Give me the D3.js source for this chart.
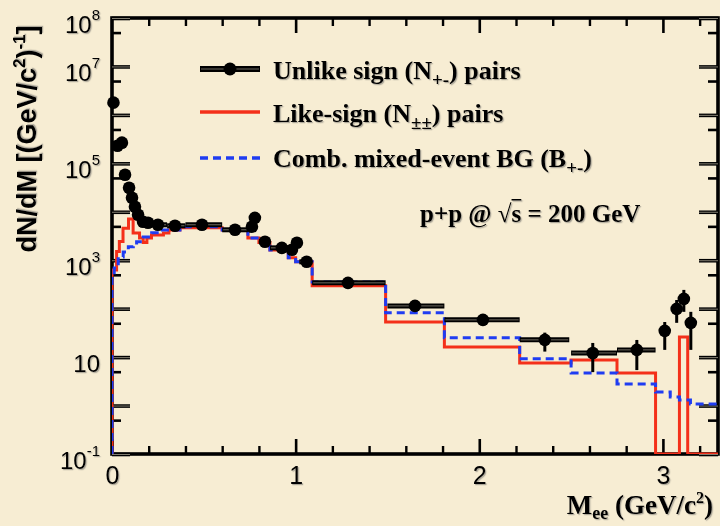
<!DOCTYPE html>
<html>
<head>
<meta charset="utf-8">
<script src="https://cdn.jsdelivr.net/npm/d3@7"></script>
<style>
  html, body { margin: 0; padding: 0; background: #f7edd3; }
  svg { display: block; }
</style>
</head>
<body>
<svg id="chart" width="720" height="526"></svg>
<script>
// ---- Unlike-sign pairs: bin centre, bin edges, yield and (where visible) error band
const unlikeMass  = [0.008, 0.03, 0.054, 0.071, 0.093, 0.109, 0.125, 0.142, 0.169, 0.196, 0.25, 0.343, 0.49, 0.67, 0.762, 0.778, 0.833, 0.925, 0.98, 1.007, 1.06, 1.285, 1.65, 2.02, 2.357, 2.618, 2.858, 3.01, 3.075, 3.114, 3.152];
const unlikeBinLo = [0, 0.02, 0.04, 0.06, 0.08, 0.10, 0.12, 0.14, 0.16, 0.18, 0.21, 0.30, 0.40, 0.60, 0.74, 0.77, 0.80, 0.86, 0.96, 1.00, 1.02, 1.09, 1.50, 1.81, 2.22, 2.50, 2.75, 3.00, 3.065, 3.105, 3.145];
const unlikeBinHi = [0.02, 0.04, 0.06, 0.08, 0.10, 0.12, 0.14, 0.16, 0.18, 0.21, 0.30, 0.40, 0.60, 0.74, 0.77, 0.80, 0.86, 0.96, 1.00, 1.02, 1.09, 1.49, 1.81, 2.22, 2.49, 2.75, 2.96, 3.02, 3.085, 3.125, 3.16];
const unlikeYield = [1.79e6, 2.31e5, 2.67e5, 5.81e4, 3.13e4, 1.95e4, 1.27e4, 8.67e3, 6.21e3, 5.93e3, 5.39e3, 5.14e3, 5.39e3, 4.25e3, 4.9e3, 7.5e3, 2.4e3, 1.8e3, 1.64e3, 2.29e3, 927, 341, 114, 58.7, 22.7, 12.2, 14.1, 34.8, 99, 159, 50.9];
const unlikeErrLo = [null, null, null, null, null, null, null, null, null, null, null, null, null, null, null, null, null, null, null, null, null, null, null, 46, 13, 4.9, 5.4, 14.1, 51, 86, 14.1];
const unlikeErrHi = [null, null, null, null, null, null, null, null, null, null, null, null, null, null, null, null, null, null, null, null, null, null, null, 74, 32, 19.6, 22.6, 53, 151, 244, 86];

// ---- Like-sign pairs histogram (bin edges, contents)
const likeEdges = [0, 0.025, 0.04, 0.06, 0.09, 0.115, 0.15, 0.17, 0.19, 0.215, 0.28, 0.31, 0.37, 0.60, 0.74, 0.80, 0.86, 0.96, 1.00, 1.09, 1.49, 1.81, 2.22, 2.50, 2.75, 2.96, 3.09, 3.135, 3.30];
const likeYield = [630, 1510, 2440, 4570, 7080, 3630, 2870, 2330, 2870, 3330, 3630, 4230, 4700, 4230, 2870, 2330, 1630, 1120, 930, 296, 53, 16.2, 7.6, 8.7, 4.7, 0, 26, 0];

// ---- Combinatorial mixed-event background histogram (bin edges, contents)
const mixedEdges = [0, 0.012, 0.034, 0.061, 0.089, 0.116, 0.134, 0.17, 0.216, 0.26, 0.37, 0.60, 0.74, 0.80, 0.86, 0.96, 1.00, 1.09, 1.49, 1.81, 2.22, 2.50, 2.75, 2.96, 3.04, 3.09, 3.15, 3.30];
const mixedYield = [457, 690, 1170, 1480, 1900, 2090, 2400, 3030, 3700, 4230, 4900, 4230, 2870, 2330, 1630, 1120, 930, 355, 82, 25, 9.2, 4.7, 2.8, 1.9, 1.5, 1.3, 1.08];

// ---- Axis ticks and labels
const xMajorTicks = [0, 1, 2, 3];
const xMinorTicks = [0.2, 0.4, 0.6, 0.8, 1.2, 1.4, 1.6, 1.8, 2.2, 2.4, 2.6, 2.8, 3.2];
const xTickLabels = ["0", "1", "2", "3"];
const yMajorTicks = [1e-1, 1, 10, 1e2, 1e3, 1e4, 1e5, 1e6, 1e7, 1e8];
const yMinorTicks = [0.5, 5, 50, 500, 5e3, 5e4, 5e5, 5e6, 5e7];
const yLabelValues = [1e8, 1e7, 1e5, 1e3, 10, 1e-1];
const yLabelExps = ["8", "7", "5", "3", "", "-1"];

const legendLabels = [
  ["Unlike sign (N", "+-", ") pairs"],
  ["Like-sign (N", "\u00b1\u00b1", ") pairs"],
  ["Comb. mixed-event BG (B", "+-", ")"]
];

// ---- Layout
const W = 720, H = 526;
const plot = { l: 112, r: 718, t: 18, b: 454 };
const RED = "#f4301a", BLUE = "#1f3cf2";
const SANS = "'Liberation Sans', Arial, Helvetica, sans-serif";
const SERIF = "'Liberation Serif', 'Times New Roman', Times, serif";

const svg = d3.select("#chart");
const defs = svg.append("defs");
defs.append("clipPath").attr("id", "plotClip")
  .append("rect").attr("x", plot.l).attr("y", plot.t)
  .attr("width", plot.r - plot.l).attr("height", plot.b - plot.t);
const shadow = defs.append("filter").attr("id", "ts")
  .attr("x", "-5%").attr("y", "-20%").attr("width", "115%").attr("height", "150%");
shadow.append("feDropShadow").attr("dx", 1.2).attr("dy", 1.2)
  .attr("stdDeviation", 0.5).attr("flood-color", "#555").attr("flood-opacity", 0.45);

svg.append("rect").attr("width", W).attr("height", H).attr("fill", "#f7edd3");

const x = d3.scaleLinear().domain([0, 3.3]).range([plot.l, plot.r]);
const y = d3.scaleLog().domain([0.1, 1e8]).range([plot.b, plot.t]);
const yv = v => (v > 0.1 ? y(v) : y(0.1));

// ---- Frame
svg.append("rect").attr("x", plot.l).attr("y", plot.t)
  .attr("width", plot.r - plot.l).attr("height", plot.b - plot.t)
  .attr("fill", "none").attr("stroke", "#000").attr("stroke-width", 3.6);

// double-stroke look for the heavy tick marks
function heavyTicks(g, w) {
  g.select(".domain").remove();
  g.selectAll(".tick line").attr("stroke", "#000").attr("stroke-width", w);
  g.selectAll(".tick").each(function () {
    const t = d3.select(this), l = t.select("line");
    t.append("line")
      .attr("x2", l.attr("x2") || 0).attr("y2", l.attr("y2") || 0)
      .attr("stroke", "#8f8a7c").attr("stroke-width", 0.9);
  });
}
function lightTicks(g, w) {
  g.select(".domain").remove();
  g.selectAll(".tick line").attr("stroke", "#000").attr("stroke-width", w);
}

// bottom and top x axes
const gxMajor = svg.append("g").attr("transform", `translate(0,${plot.b})`)
  .call(d3.axisBottom(x).tickValues(xMajorTicks).tickSize(-15).tickPadding(12)
    .tickFormat((d, i) => xTickLabels[i]));
lightTicks(gxMajor, 2.6);
gxMajor.selectAll("text").attr("font-size", 25).attr("font-family", SANS)
  .attr("fill", "#000").attr("filter", "url(#ts)");
lightTicks(svg.append("g").attr("transform", `translate(0,${plot.b})`)
  .call(d3.axisBottom(x).tickValues(xMinorTicks).tickSize(-8).tickFormat("")), 2.4);
lightTicks(svg.append("g").attr("transform", `translate(0,${plot.t})`)
  .call(d3.axisTop(x).tickValues(xMajorTicks.slice(1)).tickSize(-15).tickFormat("")), 2.6);
lightTicks(svg.append("g").attr("transform", `translate(0,${plot.t})`)
  .call(d3.axisTop(x).tickValues(xMinorTicks).tickSize(-8).tickFormat("")), 2.4);

// left and right log y axes
heavyTicks(svg.append("g").attr("transform", `translate(${plot.l},0)`)
  .call(d3.axisLeft(y).tickValues(yMajorTicks).tickSize(-18).tickFormat("")), 3.6);
lightTicks(svg.append("g").attr("transform", `translate(${plot.l},0)`)
  .call(d3.axisLeft(y).tickValues(yMinorTicks).tickSize(-9).tickFormat("")), 2.6);
heavyTicks(svg.append("g").attr("transform", `translate(${plot.r},0)`)
  .call(d3.axisRight(y).tickValues(yMajorTicks).tickSize(-19).tickFormat("")), 3.6);
lightTicks(svg.append("g").attr("transform", `translate(${plot.r},0)`)
  .call(d3.axisRight(y).tickValues(yMinorTicks).tickSize(-10).tickFormat("")), 2.6);

// y tick labels: 10 with superscript exponent
const yLab = svg.append("g").attr("font-family", SANS).attr("fill", "#000")
  .attr("filter", "url(#ts)");
yLabelValues.forEach((v, i) => {
  const t = yLab.append("text").attr("x", 100).attr("y", y(v) + 14.5)
    .attr("text-anchor", "end").attr("font-size", 24);
  t.append("tspan").text("10");
  if (yLabelExps[i]) {
    t.append("tspan").attr("dy", -13).attr("font-size", 15).text(yLabelExps[i]);
  }
});

// ---- Data layers (histograms clipped to the plotting frame)
const layer = svg.append("g");
const clipped = layer.append("g").attr("clip-path", "url(#plotClip)");

// unlike-sign horizontal bin bars
const pts = unlikeMass.map((m, i) => ({
  m, lo: unlikeBinLo[i], hi: unlikeBinHi[i], v: unlikeYield[i],
  eLo: unlikeErrLo[i], eHi: unlikeErrHi[i]
}));
const bars = layer.append("g");
bars.selectAll("line.hb").data(pts).join("line")
  .attr("x1", d => x(d.lo)).attr("x2", d => x(d.hi))
  .attr("y1", d => y(d.v)).attr("y2", d => y(d.v))
  .attr("stroke", "#000").attr("stroke-width", 5);
bars.selectAll("line.hc").data(pts).join("line").attr("class", "hc")
  .attr("x1", d => x(d.lo) + 1).attr("x2", d => x(d.hi) - 1)
  .attr("y1", d => y(d.v)).attr("y2", d => y(d.v))
  .attr("stroke", "#6f6b60").attr("stroke-width", 1);
bars.selectAll("line.vb").data(pts.filter(d => d.eLo !== null)).join("line")
  .attr("class", "vb")
  .attr("x1", d => x(d.m)).attr("x2", d => x(d.m))
  .attr("y1", d => y(d.eLo)).attr("y2", d => y(d.eHi))
  .attr("stroke", "#000").attr("stroke-width", 3);

// step histograms
function stepPath(edges, vals) {
  const p = d3.path();
  p.moveTo(x(edges[0]), y(0.1));
  vals.forEach((v, i) => {
    p.lineTo(x(edges[i]), yv(v));
    p.lineTo(x(edges[i + 1]), yv(v));
  });
  return p.toString();
}
clipped.append("path").attr("d", stepPath(likeEdges, likeYield))
  .attr("fill", "none").attr("stroke", RED).attr("stroke-width", 3)
  .attr("stroke-linejoin", "miter");
clipped.append("path").attr("d", stepPath(mixedEdges, mixedYield))
  .attr("fill", "none").attr("stroke", BLUE).attr("stroke-width", 3)
  .attr("stroke-dasharray", "8,5");

// unlike-sign markers
layer.append("g").selectAll("circle").data(pts).join("circle")
  .attr("cx", d => x(d.m)).attr("cy", d => y(d.v)).attr("r", 6.3).attr("fill", "#000");

// ---- Legend
const legend = svg.append("g");
const rowY = [69, 112, 158];
const baseY = [79, 122, 167];
// row 1: marker with bar
legend.append("line").attr("x1", 200).attr("x2", 260).attr("y1", rowY[0]).attr("y2", rowY[0])
  .attr("stroke", "#000").attr("stroke-width", 6);
legend.append("line").attr("x1", 201).attr("x2", 259).attr("y1", rowY[0]).attr("y2", rowY[0])
  .attr("stroke", "#6f6b60").attr("stroke-width", 1);
legend.append("circle").attr("cx", 230).attr("cy", rowY[0]).attr("r", 6.5).attr("fill", "#000");
legend.append("line").attr("x1", 200).attr("x2", 260).attr("y1", rowY[1]).attr("y2", rowY[1])
  .attr("stroke", RED).attr("stroke-width", 3.5);
legend.append("line").attr("x1", 200).attr("x2", 260).attr("y1", rowY[2]).attr("y2", rowY[2])
  .attr("stroke", BLUE).attr("stroke-width", 3.5).attr("stroke-dasharray", "8,5");

legendLabels.forEach((parts, i) => {
  const t = legend.append("text").attr("x", 273).attr("y", baseY[i])
    .attr("font-family", SERIF).attr("font-weight", "bold").attr("font-size", 26)
    .attr("fill", "#000").attr("filter", "url(#ts)");
  t.append("tspan").text(parts[0]);
  t.append("tspan").attr("dy", 7).attr("font-size", 19).text(parts[1]);
  t.append("tspan").attr("dy", -7).text(parts[2]);
});

// ---- Collision system annotation
const ann = svg.append("text").attr("x", 420).attr("y", 222)
  .attr("font-family", SERIF).attr("font-weight", "bold").attr("font-size", 25)
  .attr("fill", "#000").attr("filter", "url(#ts)");
ann.append("tspan").text("p+p @ \u221A");
ann.append("tspan").attr("text-decoration", "overline").text("s");
ann.append("tspan").text(" = 200 GeV");

// ---- Axis titles
const xt = svg.append("text").attr("x", 713).attr("y", 514).attr("text-anchor", "end")
  .attr("font-family", SERIF).attr("font-weight", "bold").attr("font-size", 27)
  .attr("fill", "#000").attr("filter", "url(#ts)");
xt.append("tspan").text("M");
xt.append("tspan").attr("dy", 5).attr("font-size", 18).text("ee");
xt.append("tspan").attr("dy", -5).text(" (GeV/c");
xt.append("tspan").attr("dy", -11).attr("font-size", 16).text("2");
xt.append("tspan").attr("dy", 11).text(")");

const yt = svg.append("text")
  .attr("transform", "translate(36,139) rotate(-90)")
  .attr("text-anchor", "middle")
  .attr("font-family", SANS).attr("font-weight", "bold").attr("font-size", 27)
  .attr("fill", "#000").attr("filter", "url(#ts)");
yt.append("tspan").text("dN/dM [(GeV/c");
yt.append("tspan").attr("dy", -11).attr("font-size", 17).text("2");
yt.append("tspan").attr("dy", 11).text(")");
yt.append("tspan").attr("dy", -11).attr("font-size", 17).text("-1");
yt.append("tspan").attr("dy", 11).text("]");
</script>
</body>
</html>
